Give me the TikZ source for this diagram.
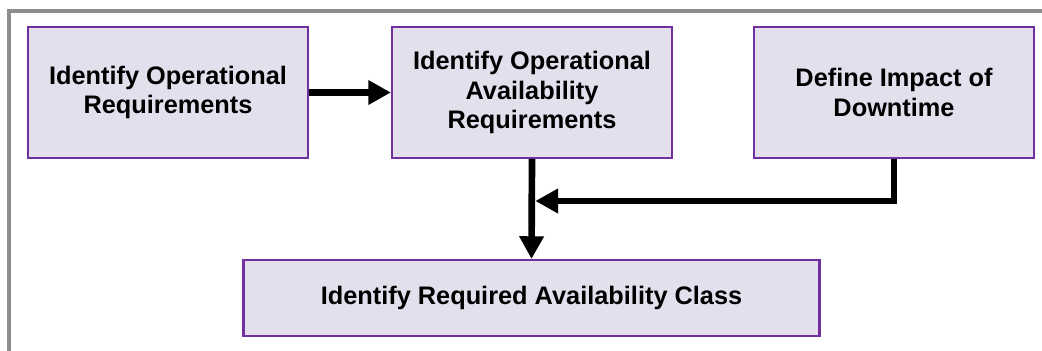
\documentclass[tikz,border=0pt]{standalone}
\usepackage{fontspec}
\setmainfont{Liberation Sans}
\usetikzlibrary{calc,arrows.meta}

\begin{document}
\begin{tikzpicture}[x=0.75pt,y=-0.75pt]

% Couleurs
\definecolor{violetBord}{HTML}{7030A0}
\definecolor{violetFond}{HTML}{E4DFEC}
\definecolor{grisCadre}{gray}{0.55}

\tikzset{
  etape/.style={draw=violetBord, fill=violetFond, line width=1.6pt, align=center,
    inner sep=0pt, font=\fontsize{19}{22}\selectfont\bfseries},
  flux/.style={line width=5pt, -{Triangle[width=17.5pt,length=17pt]}}
}

\useasboundingbox (0,0) rectangle (1042,350);
\clip (0,0) rectangle (1042,350);

% Cadre gris
\draw[grisCadre, line width=2.5pt] (9,11) rectangle (1080,390);

% Etapes du haut
\node[etape, minimum width=210pt, minimum height=98pt] (opreq) at (168,92.5)
  {Identify Operational\\Requirements};
\node[etape, minimum width=210pt, minimum height=98pt] (opavail) at (532,92.5)
  {Identify Operational\\Availability\\Requirements};
\node[etape, minimum width=210pt, minimum height=98pt] (impact) at (894,92.5)
  {Define Impact of\\Downtime};

% Etape du bas
\node[etape, minimum width=432pt, minimum height=57pt] (avclass) at (531.5,298)
  {Identify Required Availability Class};

% Point de jonction
\coordinate (merge) at ([xshift=2.5pt]opavail.south |- 0,201);

% Fleches
\draw[flux] (opreq.east) -- (opavail.west);
\draw[flux] (opavail.south) -- (avclass.north);
\draw[flux] (impact.south) |- (merge);

\end{tikzpicture}
\end{document}
